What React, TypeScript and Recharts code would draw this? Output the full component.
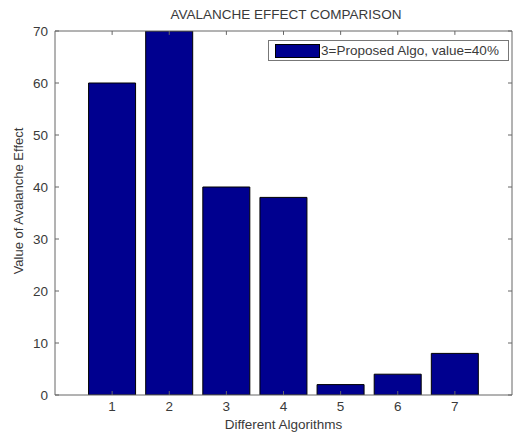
import React from 'react';
import { BarChart, Bar, XAxis, YAxis, ReferenceLine } from 'recharts';

const algorithms = [1, 2, 3, 4, 5, 6, 7];
const avalancheValues = [60, 70, 40, 38, 2, 4, 8];
const yTicks = [0, 10, 20, 30, 40, 50, 60, 70];
const xTicks = [1, 2, 3, 4, 5, 6, 7];
const legendText = '3=Proposed Algo, value=40%';
const titleText = 'AVALANCHE EFFECT COMPARISON';

const data = algorithms.map((a, i) => ({ alg: a, value: avalancheValues[i] }));

const X_MIN = 0;
const X_MAX = 8;
const Y_MIN = 0;
const Y_MAX = 70;
const TICK_LEN_Y = 0.75; // inward tick length in y data units
const TICK_LEN_X = 0.07; // inward tick length in x data units

const FONT = '"Liberation Sans", Arial, sans-serif';
const TEXT = '#3a3a3a';
const AXIS = '#666';
const BAR = '#00008F';
const FS = 13.5;

export default function App() {
  return (
    <div style={{ position: 'absolute', left: 0, top: 0, width: 518, height: 432, background: '#fff' }}>
      <BarChart width={518} height={432} data={data} margin={{ top: 31, right: 6, bottom: 0, left: 0 }}>
        <XAxis
          dataKey="alg"
          type="number"
          domain={[X_MIN, X_MAX]}
          allowDataOverflow
          ticks={xTicks}
          height={37}
          stroke={AXIS}
          tickSize={-4}
          tickMargin={10}
          tick={{ fill: TEXT, fontSize: FS, fontFamily: FONT }}
          label={{ value: 'Different Algorithms', position: 'insideBottom', offset: 3, fill: TEXT, fontSize: FS, fontFamily: FONT }}
        />
        <YAxis
          domain={[Y_MIN, Y_MAX]}
          allowDataOverflow
          ticks={yTicks}
          width={55}
          stroke={AXIS}
          tickSize={-4}
          tickMargin={11}
          tick={{ fill: TEXT, fontSize: FS, fontFamily: FONT }}
          label={{ value: 'Value of Avalanche Effect', angle: -90, position: 'center', dx: -9.5, dy: -12, fill: TEXT, fontSize: 13, fontFamily: FONT }}
        />
        <ReferenceLine y={Y_MAX} stroke={AXIS} ifOverflow="visible" />
        <ReferenceLine x={X_MAX} stroke={AXIS} ifOverflow="visible" />
        {xTicks.map((t) => (
          <ReferenceLine
            key={`tx${t}`}
            segment={[{ x: t, y: Y_MAX }, { x: t, y: Y_MAX - TICK_LEN_Y }]}
            stroke={AXIS}
            ifOverflow="visible"
          />
        ))}
        {yTicks.map((t) => (
          <ReferenceLine
            key={`ty${t}`}
            segment={[{ x: X_MAX, y: t }, { x: X_MAX - TICK_LEN_X, y: t }]}
            stroke={AXIS}
            ifOverflow="visible"
          />
        ))}
        <Bar dataKey="value" fill={BAR} stroke="#000" strokeWidth={1} barSize={47} isAnimationActive={false} />
      </BarChart>
      <div
        style={{
          position: 'absolute',
          left: 0,
          top: 7,
          width: 572,
          textAlign: 'center',
          fontFamily: FONT,
          fontSize: FS,
          color: TEXT,
          lineHeight: '16px',
        }}
      >
        {titleText}
      </div>
      <div
        style={{
          position: 'absolute',
          left: 268,
          top: 40,
          boxSizing: 'border-box',
          width: 241,
          height: 21,
          border: '1px solid #777',
          background: '#fff',
          display: 'flex',
          alignItems: 'center',
          fontFamily: FONT,
          fontSize: FS,
          color: TEXT,
          whiteSpace: 'nowrap',
        }}
      >
        <div style={{ width: 43, height: 12, background: BAR, border: '1px solid #000', marginLeft: 6, marginRight: 1, flexShrink: 0 }} />
        <span>{legendText}</span>
      </div>
    </div>
  );
}
